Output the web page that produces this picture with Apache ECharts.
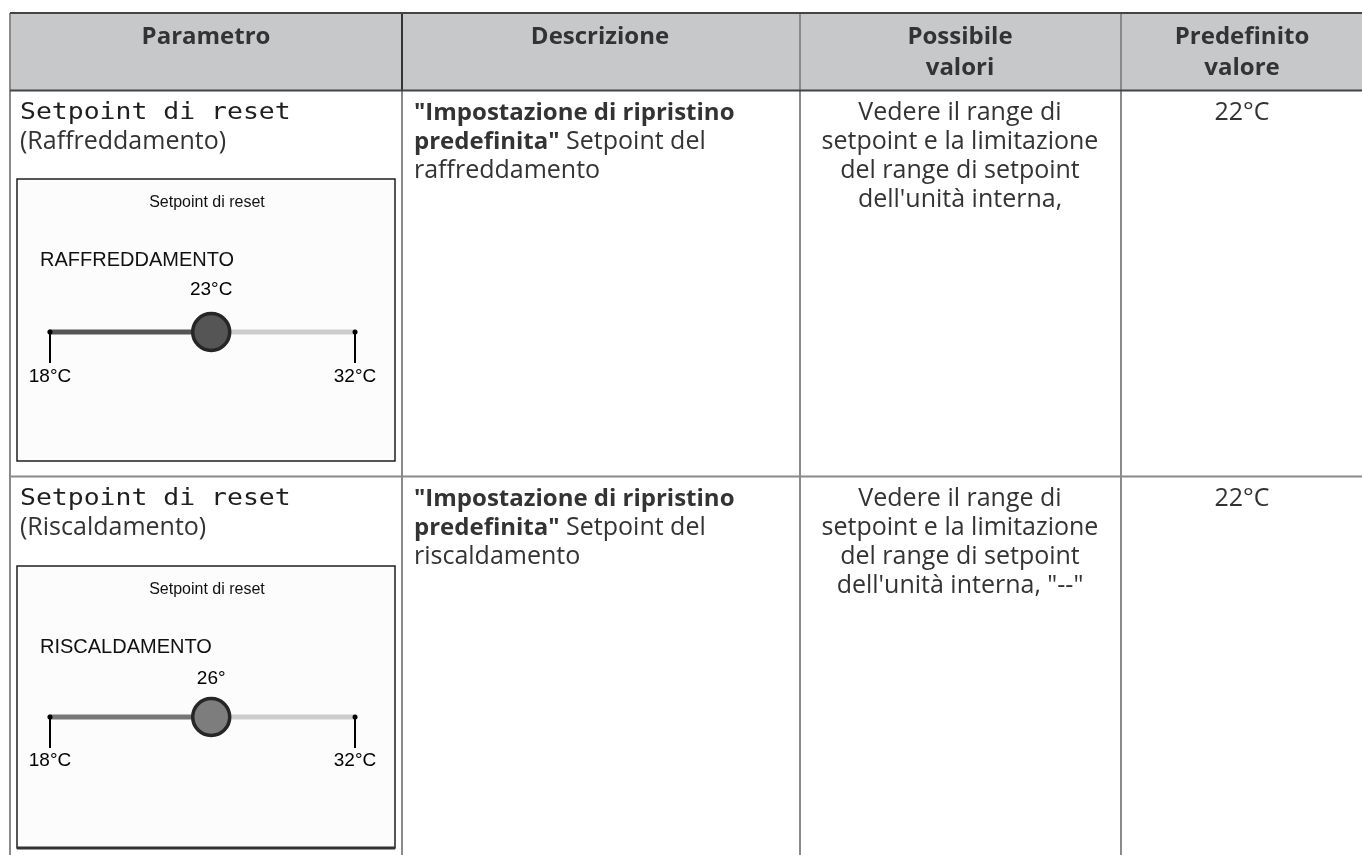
<!DOCTYPE html>
<html><head><meta charset="utf-8">
<script src="https://cdn.jsdelivr.net/npm/echarts@6/dist/echarts.min.js"></script>
<style>html,body{margin:0;padding:0;background:#fff}#c{width:1362px;height:855px}</style>
</head><body><div id="c"></div>
<script>
// ---- data ----
const headers = ['Parametro', 'Descrizione', 'Possibile\nvalori', 'Predefinito\nvalore'];
const paramNames = ['Setpoint di reset', 'Setpoint di reset'];
const paramModes = ['(Raffreddamento)', '(Riscaldamento)'];
const descBold1 = ['"Impostazione di ripristino', '"Impostazione di ripristino'];
const descBold2 = ['predefinita"', 'predefinita"'];
const descRest2 = [' Setpoint del', ' Setpoint del'];
const descLine3 = ['raffreddamento', 'riscaldamento'];
const possibleLines = [
  ['Vedere il range di', 'setpoint e la limitazione', 'del range di setpoint', "dell'unità interna,"],
  ['Vedere il range di', 'setpoint e la limitazione', 'del range di setpoint', "dell'unità interna, \"--\""]
];
const defaults = ['22°C', '22°C'];
const screenTitles = ['Setpoint di reset', 'Setpoint di reset'];
const screenModes = ['RAFFREDDAMENTO', 'RISCALDAMENTO'];
const sliderMin = [18, 18];
const sliderMax = [32, 32];
const knobPosition = [25.4, 25.4];          // where the knob sits on the 18–32 track
const knobLabels = ['23°C', '26°'];
const endLabels = ['18°C', '32°C'];

// ---- layout ----
const colX = [10, 402, 800, 1121, 1364];
const headTop = 13, headBot = 90.5;
const rowTop = [90.5, 476.5];
const rowShift = [0, 386];
const trackY = [332, 717];
const boxTop = [179, 566], boxH = 282;
const grey = '#8a8a8a', dark = '#444', txt = '#333';
const bodyFam = '"Open Sans", "Noto Sans", sans-serif';
const boxFam = '"Liberation Sans", Arial, sans-serif';

const g = [];
g.push({type:'rect', shape:{x:colX[0], y:headTop, width:colX[4]-colX[0], height:headBot-headTop}, style:{fill:'#c7c8ca'}, z:-2});
for (let r=0;r<2;r++){
  g.push({type:'rect', shape:{x:17, y:boxTop[r], width:378, height:boxH}, style:{fill:'#fcfcfc', stroke:'#1f1f1f', lineWidth:1.5}, z:-1});
}
g.push({type:'line', shape:{x1:17, y1:boxTop[1]+boxH, x2:395, y2:boxTop[1]+boxH}, style:{stroke:'#333', lineWidth:3}, z:2});
const line=(x1,y1,x2,y2,c,w)=>g.push({type:'line', shape:{x1,y1,x2,y2}, style:{stroke:c, lineWidth:w}, z:3});
line(colX[0], 855, colX[0], headTop, grey, 2);
for (let i=1;i<4;i++) line(colX[i], headTop, colX[i], 855, grey, 2);
line(colX[1], headTop, colX[1], headBot, '#333', 2);
line(colX[0], headTop, 1362, headTop, dark, 2);
line(colX[0], headBot, 1362, headBot, dark, 2);
line(colX[0], rowTop[1], 1362, rowTop[1], grey, 2);

const headX=[206,600,960,1242];
headers.forEach((h,i)=>{
  h.split('\n').forEach((t,j)=>{
    g.push({type:'text', z:5, style:{text:t, x:headX[i], y:37+j*31, align:'center', verticalAlign:'middle',
      fontSize:24, fontWeight:'bold', fontFamily:bodyFam, fill:txt}});
  });
});

const T=(text,x,y,opt)=>g.push({type:'text', z:5, style:Object.assign({text, x, y, verticalAlign:'middle', fontSize:25, fontFamily:bodyFam, fill:txt}, opt||{})});
for (let r=0;r<2;r++){
  const d=rowShift[r];
  g.push({type:'text', z:5, x:20, y:113+d, scaleX:1.15, style:{text:paramNames[r], x:0, y:0, verticalAlign:'middle', fontSize:23, fontFamily:'"DejaVu Sans Mono", monospace', fill:'#1e1e1e'}});
  T(paramModes[r], 20, 142+d);
  T(descBold1[r], 414, 113+d, {fontSize:24, fontWeight:'bold'});
  g.push({type:'text', z:5, style:{text:'{b|'+descBold2[r]+'}'+descRest2[r], x:414, y:142+d, verticalAlign:'middle', fontSize:25, fontFamily:bodyFam, fill:txt,
    rich:{b:{fontSize:24, fontWeight:'bold', fontFamily:bodyFam, fill:txt}}}});
  T(descLine3[r], 414, 171+d);
  possibleLines[r].forEach((t,j)=>T(t, 960, 113+d+j*29, {align:'center'}));
  T(defaults[r], 1242, 113+d, {align:'center'});
  g.push({type:'text', z:5, style:{text:screenTitles[r], x:207, y:boxTop[r]+24, align:'center', verticalAlign:'middle', fontSize:16, fontFamily:boxFam, fill:'#111'}});
  g.push({type:'text', z:5, style:{text:screenModes[r], x:40, y:boxTop[r]+81, verticalAlign:'middle', fontSize:20, fontFamily:boxFam, fill:'#111'}});
}

// ---- slider grids ----
const grids=[], xAxes=[], yAxes=[], series=[];
const knobFill=['#555555','#7d7d7d'], leftTrack=['#555555','#777777'];
const labelDist=[12, 8], labelMargin=[35, 34];
for (let r=0;r<2;r++){
  grids.push({left:50, right:1362-355, top:trackY[r]-40, height:40, containLabel:false});
  xAxes.push({type:'value', gridIndex:r, min:sliderMin[r], max:sliderMax[r], position:'bottom', z:8,
    axisLine:{show:false}, splitLine:{show:false},
    axisTick:{show:true, customValues:[sliderMin[r], sliderMax[r]], length:31, lineStyle:{color:'#000', width:2}},
    axisLabel:{show:true, customValues:[sliderMin[r], sliderMax[r]], margin:labelMargin[r], fontSize:19, fontFamily:boxFam, color:'#000',
      formatter:(v)=> v===sliderMin[r]?endLabels[0]:endLabels[1]}});
  yAxes.push({type:'value', gridIndex:r, min:0, max:1, show:false});
  series.push({type:'line', xAxisIndex:r, yAxisIndex:r, data:[[knobPosition[r],0],[sliderMax[r],0]], symbol:'none', clip:false, silent:true,
    lineStyle:{color:'#cdcdcd', width:5, cap:'round', opacity:1}, z:3});
  series.push({type:'line', xAxisIndex:r, yAxisIndex:r, data:[[sliderMin[r],0],[knobPosition[r],0]], symbol:'none', clip:false, silent:true,
    lineStyle:{color:leftTrack[r], width:5, cap:'round', opacity:1}, z:4});
  series.push({type:'scatter', xAxisIndex:r, yAxisIndex:r, data:[[sliderMin[r],0],[sliderMax[r],0]], symbolSize:5, clip:false, silent:true,
    itemStyle:{color:'#000', opacity:1}, z:9});
  series.push({type:'scatter', xAxisIndex:r, yAxisIndex:r, data:[[knobPosition[r],0]], symbolSize:37, clip:false, silent:true,
    itemStyle:{color:knobFill[r], borderColor:'#262626', borderWidth:3.5, opacity:1},
    label:{show:true, position:'top', distance:labelDist[r], formatter:knobLabels[r], fontSize:19, lineHeight:20, fontFamily:boxFam, color:'#000', opacity:1}, z:10});
}

const chart = echarts.init(document.getElementById('c'), null, {renderer:'canvas'});
chart.setOption({animation:false, backgroundColor:'#fff', grid:grids, xAxis:xAxes, yAxis:yAxes, series, graphic:{elements:g}});
</script></body></html>
